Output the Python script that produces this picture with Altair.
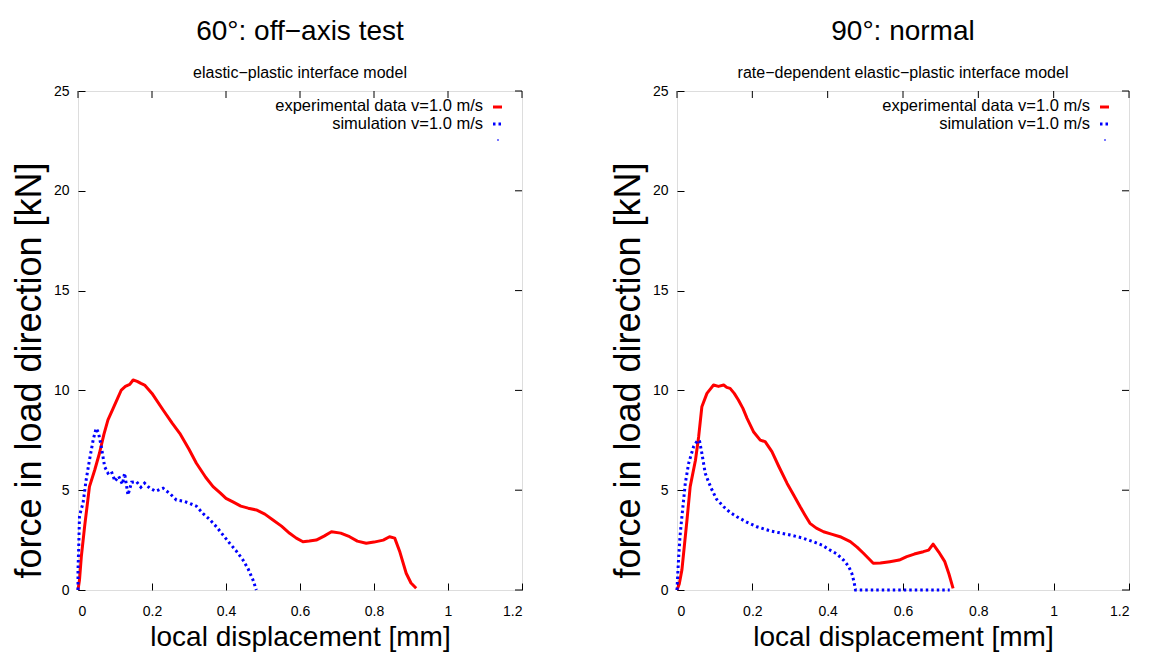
import altair as alt
import pandas as pd

# ---------------- data ----------------
exp60_x = [0, 0.004, 0.009, 0.018, 0.031, 0.045, 0.058, 0.07, 0.081, 0.095, 0.107, 0.117, 0.128, 0.14, 0.149,
           0.16, 0.17, 0.18, 0.2, 0.23, 0.255, 0.275, 0.3, 0.32, 0.345, 0.365, 0.385, 0.40, 0.42, 0.44, 0.46,
           0.482, 0.505, 0.527, 0.55, 0.572, 0.59, 0.608, 0.625, 0.644, 0.665, 0.685, 0.71, 0.734, 0.755, 0.779,
           0.8, 0.825, 0.842, 0.856, 0.87, 0.887, 0.9, 0.914]
exp60_y = [0, 0.5, 1.67, 3.2, 5.18, 6.0, 6.85, 7.8, 8.52, 9.1, 9.6, 10.02, 10.2, 10.3, 10.52,
           10.45, 10.35, 10.27, 9.85, 9.02, 8.35, 7.85, 7.05, 6.35, 5.65, 5.18, 4.85, 4.59, 4.4, 4.2, 4.1,
           4.01, 3.8, 3.51, 3.2, 2.84, 2.6, 2.42, 2.45, 2.5, 2.7, 2.92, 2.85, 2.67, 2.45, 2.34,
           2.4, 2.5, 2.67, 2.6, 1.9, 0.84, 0.35, 0.09]

sim60_x = [0, 0.0, 0.002, 0.004, 0.008, 0.0135, 0.022, 0.031, 0.041, 0.049, 0.055, 0.063, 0.072, 0.081, 0.09,
           0.1, 0.11, 0.12, 0.126, 0.135, 0.145, 0.158, 0.17, 0.18, 0.194, 0.21, 0.23, 0.25, 0.266, 0.285,
           0.302, 0.32, 0.338, 0.355, 0.374, 0.39, 0.41, 0.428, 0.446, 0.46, 0.473, 0.482]
sim60_y = [0, 1.0, 2.2, 3.67, 4.0, 4.34, 5.51, 6.51, 7.52, 8.1, 7.9, 7.18, 6.18, 5.85, 5.95,
           5.45, 5.7, 5.3, 5.85, 4.76, 5.4, 5.43, 5.15, 5.35, 5.1, 4.95, 5.1, 4.8, 4.51, 4.45,
           4.34, 4.2, 3.83, 3.55, 3.17, 2.8, 2.34, 1.95, 1.5, 1.05, 0.5, 0.0]

exp90_x = [0, 0.006, 0.013, 0.02, 0.0265, 0.035, 0.049, 0.0575, 0.066, 0.0795, 0.09, 0.097, 0.11, 0.124, 0.132,
           0.141, 0.152, 0.163, 0.175, 0.186, 0.203, 0.221, 0.234, 0.252, 0.27, 0.292, 0.31, 0.327, 0.34, 0.353,
           0.37, 0.389, 0.41, 0.433, 0.46, 0.478, 0.495, 0.51, 0.521, 0.54, 0.565, 0.59, 0.61, 0.63, 0.654,
           0.668, 0.68, 0.695, 0.711, 0.722, 0.733]
exp90_y = [0, 0.3, 1.0, 2.3, 3.5, 5.18, 6.5, 7.68, 9.18, 9.85, 10.1, 10.27, 10.2, 10.27, 10.15,
           10.1, 9.85, 9.52, 9.1, 8.6, 7.93, 7.51, 7.43, 6.93, 6.2, 5.35, 4.75, 4.17, 3.75, 3.34,
           3.1, 2.92, 2.8, 2.67, 2.42, 2.15, 1.84, 1.55, 1.34, 1.35, 1.42, 1.5, 1.67, 1.8, 1.92,
           2.0, 2.3, 1.9, 1.42, 0.8, 0.08]

sim90_x = [0, 0.002, 0.0045, 0.008, 0.013, 0.022, 0.031, 0.044, 0.055, 0.06, 0.066, 0.075, 0.084, 0.093, 0.105,
           0.124, 0.14, 0.159, 0.185, 0.212, 0.25, 0.30, 0.33, 0.362, 0.385, 0.406, 0.425, 0.442, 0.455, 0.464,
           0.47, 0.474, 0.5, 0.6, 0.7, 0.724]
sim90_y = [0, 0.8, 1.67, 2.7, 3.67, 5.35, 6.35, 7.18, 7.51, 7.45, 6.85, 5.85, 5.4, 5.01, 4.55,
           4.17, 3.9, 3.67, 3.4, 3.17, 2.95, 2.76, 2.62, 2.42, 2.25, 2.0, 1.8, 1.5, 1.2, 0.84,
           0.4, 0.0, 0.0, 0.0, 0.0, 0.0]

x_ticks = [0, 0.2, 0.4, 0.6, 0.8, 1.0, 1.2]
y_ticks = [0, 5, 10, 15, 20, 25]
panel_titles = ["60°: off−axis test", "90°: normal"]
panel_subtitles = ["elastic−plastic interface model", "rate−dependent elastic−plastic interface model"]
legend_labels = ["experimental data v=1.0 m/s", "simulation v=1.0 m/s"]
x_title = "local displacement [mm]"
y_title = "force in load direction [kN]"

FONT = "Liberation Sans"
RED = "#ff0000"
BLUE = "#0000ff"
H = 499
TICK = 7


def panel(ex, ey, sx, sy, title, subtitle, W):
    xscale = alt.Scale(domain=[0, 1.2], nice=False, zero=False)
    yscale = alt.Scale(domain=[0, 25], nice=False)
    xaxis = alt.Axis(values=x_ticks, format="~g", offset=-TICK, tickSize=TICK, domain=False, grid=False,
                     tickColor="black", labelFontSize=14, labelPadding=14, labelColor="black", labelFont=FONT,
                     title=x_title, titleFontSize=28, titleFontWeight="normal", titleFont=FONT,
                     titleColor="black", titlePadding=5)
    yaxis = alt.Axis(values=y_ticks, offset=-TICK, tickSize=TICK, domain=False, grid=False,
                     tickColor="black", labelFontSize=14, labelPadding=9, labelColor="black", labelFont=FONT,
                     title=y_title, titleFontSize=36, titleFontWeight="normal", titleFont=FONT,
                     titleColor="black", titlePadding=5, titleY=279)

    X = alt.X("x:Q", scale=xscale, axis=xaxis)
    Y = alt.Y("y:Q", scale=yscale, axis=yaxis)

    df_e = pd.DataFrame({"x": ex, "y": ey, "i": range(len(ex))})
    df_s = pd.DataFrame({"x": sx, "y": sy, "i": range(len(sx))})

    exp_line = alt.Chart(df_e).mark_line(color=RED, strokeWidth=3, strokeJoin="round").encode(
        x=X, y=Y, order="i:Q")
    sim_line = alt.Chart(df_s).mark_line(color=BLUE, strokeWidth=3, strokeDash=[2.5, 3],
                                         strokeCap="butt").encode(x=X, y=Y, order="i:Q")
    top_ticks = alt.Chart(pd.DataFrame({"x": x_ticks})).mark_rule(color="black", strokeWidth=1).encode(
        x=X, y=alt.value(0), y2=alt.value(TICK))
    right_ticks = alt.Chart(pd.DataFrame({"y": y_ticks})).mark_rule(color="black", strokeWidth=1).encode(
        y=Y, x=alt.value(W - TICK), x2=alt.value(W))

    def leg_label(k, ypos):
        return alt.Chart(pd.DataFrame({"t": [legend_labels[k]]})).mark_text(
            align="right", baseline="middle", fontSize=16.5, font=FONT, color="black").encode(
            text="t:N", x=alt.value(W - 39), y=alt.value(ypos))

    leg_red = alt.Chart(pd.DataFrame({"k": [0]})).mark_rule(color=RED, strokeWidth=3).encode(
        x=alt.value(W - 29), x2=alt.value(W - 20), y=alt.value(16))
    leg_blue = alt.Chart(pd.DataFrame({"k": [0]})).mark_rule(
        color=BLUE, strokeWidth=3, strokeDash=[2.5, 3], strokeCap="butt").encode(
        x=alt.value(W - 29), x2=alt.value(W - 20), y=alt.value(33))
    leg_dot = alt.Chart(pd.DataFrame({"k": [0]})).mark_square(color=BLUE, size=2, opacity=1).encode(
        x=alt.value(W - 24), y=alt.value(49))

    return alt.layer(exp_line, sim_line, top_ticks, right_ticks, leg_label(0, 15), leg_label(1, 33),
                     leg_red, leg_blue, leg_dot).properties(
        width=W, height=H,
        title=alt.TitleParams(text=title, subtitle=subtitle, fontSize=28, subtitleFontSize=16,
                              font=FONT, subtitleFont=FONT, fontWeight="normal", color="black",
                              subtitleColor="black", anchor="middle", offset=3, subtitlePadding=19),
    )


left = panel(exp60_x, exp60_y, sim60_x, sim60_y, panel_titles[0], panel_subtitles[0], 444)
right = panel(exp90_x, exp90_y, sim90_x, sim90_y, panel_titles[1], panel_subtitles[1], 452)

chart = alt.hconcat(left, right, spacing=86).properties(
    padding={"left": 2, "top": 9, "right": 0, "bottom": 0}
).configure_view(stroke="black", strokeWidth=1).configure(background="white")

chart.save("out.html", embed_options={"renderer": "svg", "actions": False})
